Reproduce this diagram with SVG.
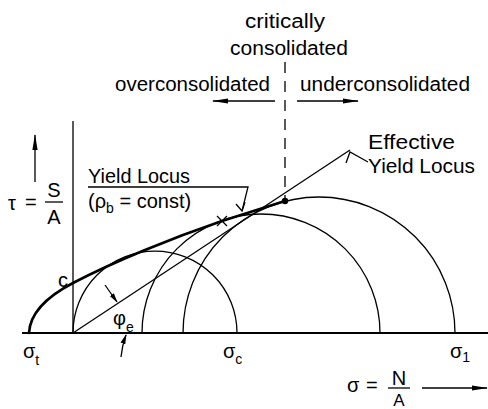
<svg xmlns="http://www.w3.org/2000/svg" width="488" height="409" viewBox="0 0 488 409">
<style>
.t{font-family:"Liberation Sans","DejaVu Sans",sans-serif;font-size:20px;fill:#000}
.s{font-size:14px}
.ln{fill:none;stroke:#000;stroke-width:1.3}
.thk{fill:none;stroke:#000;stroke-width:2.6;stroke-linecap:round}
.ax{fill:none;stroke:#000;stroke-width:2}
</style>
<defs>
<marker id="ah" markerWidth="16" markerHeight="6" refX="15" refY="3" orient="auto" markerUnits="userSpaceOnUse">
<path d="M0,0.4 L16,3 L0,5.6 z" fill="#000"/>
</marker>
<marker id="ahs" markerWidth="10" markerHeight="6" refX="9" refY="3" orient="auto" markerUnits="userSpaceOnUse">
<path d="M0,0.5 L10,3 L0,5.5 z" fill="#000"/>
</marker>
</defs>
<rect width="488" height="409" fill="#fff"/>

<g id="axes">
<line class="ax" x1="22" y1="333" x2="488" y2="333"/>
<line class="ln" x1="73" y1="121" x2="73" y2="333"/>
</g>

<g id="circles">
<path class="ln" d="M73,333 A82,82 0 0 1 237,333"/>
<path class="ln" d="M142,333 A119,119 0 0 1 380,333"/>
<path class="ln" d="M183,333 A136,136 0 0 1 455,333"/>
</g>

<g id="yield-locus">
<path class="thk" d="M29,333 C30,312 50,295 73,283 C113,262 172,238 222,221 L285,201"/>
<path class="ln" stroke-width="2" d="M217,216 L227,226 M217,226 L227,216"/>
<circle cx="285" cy="201" r="3.2" fill="#000"/>
</g>

<g id="effective-yield-locus">
<line class="ln" x1="73" y1="333" x2="350" y2="150"/>
</g>

<g id="connectors">
<line class="ln" x1="285" y1="62" x2="285" y2="201" stroke-dasharray="11 8"/>
<line class="ln" x1="275" y1="101" x2="213" y2="101" marker-end="url(#ah)"/>
<line class="ln" x1="297" y1="101" x2="358" y2="101" marker-end="url(#ah)"/>
<line class="ln" x1="35" y1="182" x2="35" y2="135" marker-end="url(#ah)"/>
<line class="ln" x1="422" y1="388" x2="487" y2="388" marker-end="url(#ah)"/>
<path class="ln" d="M88,187 L248,187 L242,211"/>
<path class="ln" d="M236,204 L242,211 L245,202"/>
<path class="ln" d="M368,162 L350,152 L346,163"/>
<line class="ln" x1="105" y1="285" x2="117" y2="302" marker-end="url(#ahs)"/>
<path class="ln" d="M121,357 Q122,346 126,335" marker-end="url(#ahs)"/>
<line class="ln" x1="45" y1="202" x2="63" y2="202"/>
<line class="ln" x1="388" y1="388" x2="410" y2="388"/>
</g>

<g id="labels">
<text class="t" x="285" y="28" text-anchor="middle" textLength="80" lengthAdjust="spacingAndGlyphs">critically</text>
<text class="t" x="289" y="55" text-anchor="middle" textLength="118" lengthAdjust="spacingAndGlyphs">consolidated</text>
<text class="t" x="115" y="91" textLength="155" lengthAdjust="spacingAndGlyphs">overconsolidated</text>
<text class="t" x="300" y="91" textLength="170" lengthAdjust="spacingAndGlyphs">underconsolidated</text>
<text class="t" x="368" y="149" textLength="87" lengthAdjust="spacingAndGlyphs">Effective</text>
<text class="t" x="368" y="173" textLength="107" lengthAdjust="spacingAndGlyphs">Yield Locus</text>
<text class="t" x="88" y="183" textLength="102" lengthAdjust="spacingAndGlyphs">Yield Locus</text>
<text class="t" x="88" y="208">(ρ<tspan class="s" dy="5">b</tspan><tspan dy="-5"> = const)</tspan></text>
<text class="t" x="8" y="210">τ</text>
<text class="t" x="25" y="209">=</text>
<text class="t" x="54" y="197" text-anchor="middle">S</text>
<text class="t" x="54" y="224" text-anchor="middle">A</text>
<text class="t" x="58" y="287">c</text>
<text class="t" x="23" y="358">σ<tspan class="s" dy="7">t</tspan></text>
<text class="t" x="223" y="358">σ<tspan class="s" dy="6">c</tspan></text>
<text class="t" x="450" y="358">σ<tspan class="s" dy="4">1</tspan></text>
<text class="t" x="113" y="325">φ<tspan style="font-size:14px" dy="7">e</tspan></text>
<text class="t" x="347" y="392">σ</text>
<text class="t" x="366" y="392">=</text>
<text class="t" x="399" y="385" text-anchor="middle">N</text>
<text class="t" x="399" y="406" text-anchor="middle" style="font-size:17px">A</text>
</g>
</svg>
